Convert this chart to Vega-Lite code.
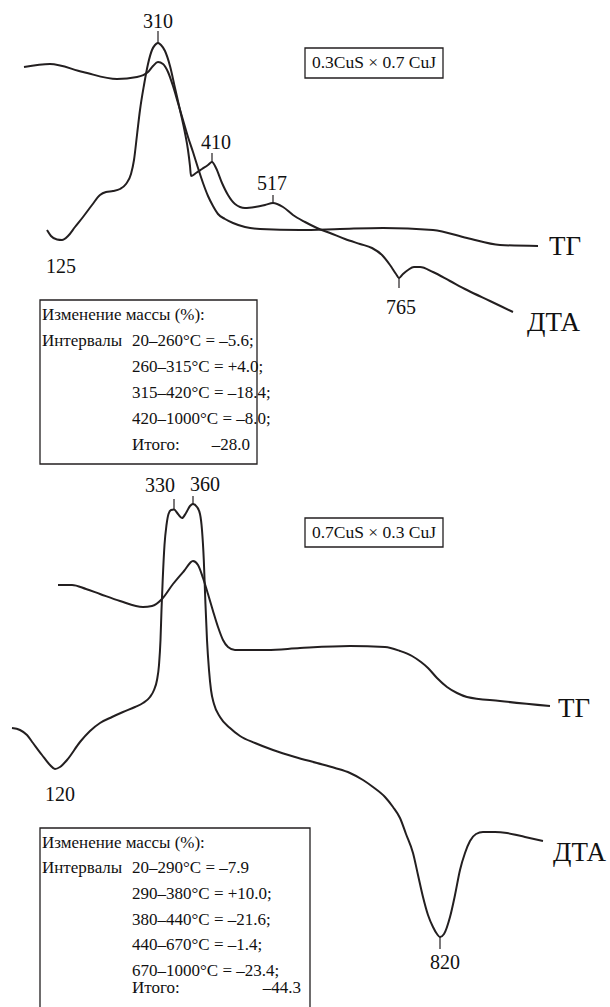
{
  "$schema": "https://vega.github.io/schema/vega-lite/v6.json",
  "autosize": {"type": "fit", "contains": "padding"},
  "width": 610,
  "height": 1007,
  "padding": 0,
  "background": "white",
  "config": {"view": {"stroke": null}},
  "datasets": {
    "curves": [
      {"curve": "tg1", "x": 24, "y": 67}, {"curve": "tg1", "x": 50, "y": 64}, {"curve": "tg1", "x": 83, "y": 72}, {"curve": "tg1", "x": 117, "y": 79},
      {"curve": "tg1", "x": 137, "y": 77}, {"curve": "tg1", "x": 148, "y": 72}, {"curve": "tg1", "x": 153, "y": 66}, {"curve": "tg1", "x": 158, "y": 62},
      {"curve": "tg1", "x": 163, "y": 64}, {"curve": "tg1", "x": 168, "y": 72}, {"curve": "tg1", "x": 173, "y": 86}, {"curve": "tg1", "x": 178, "y": 103},
      {"curve": "tg1", "x": 183, "y": 120}, {"curve": "tg1", "x": 188, "y": 137}, {"curve": "tg1", "x": 193, "y": 152}, {"curve": "tg1", "x": 198, "y": 168},
      {"curve": "tg1", "x": 203, "y": 183}, {"curve": "tg1", "x": 208, "y": 196}, {"curve": "tg1", "x": 213, "y": 206}, {"curve": "tg1", "x": 218, "y": 214},
      {"curve": "tg1", "x": 225, "y": 219}, {"curve": "tg1", "x": 233, "y": 223}, {"curve": "tg1", "x": 245, "y": 227}, {"curve": "tg1", "x": 260, "y": 229},
      {"curve": "tg1", "x": 300, "y": 230}, {"curve": "tg1", "x": 340, "y": 229}, {"curve": "tg1", "x": 383, "y": 228}, {"curve": "tg1", "x": 433, "y": 230},
      {"curve": "tg1", "x": 467, "y": 238}, {"curve": "tg1", "x": 500, "y": 245}, {"curve": "tg1", "x": 538, "y": 246},

      {"curve": "dta1", "x": 47, "y": 230}, {"curve": "dta1", "x": 51, "y": 236}, {"curve": "dta1", "x": 57, "y": 239.5}, {"curve": "dta1", "x": 62, "y": 240},
      {"curve": "dta1", "x": 68, "y": 236}, {"curve": "dta1", "x": 75, "y": 227}, {"curve": "dta1", "x": 83, "y": 217}, {"curve": "dta1", "x": 92, "y": 205},
      {"curve": "dta1", "x": 100, "y": 195}, {"curve": "dta1", "x": 106, "y": 192}, {"curve": "dta1", "x": 113, "y": 191}, {"curve": "dta1", "x": 120, "y": 189},
      {"curve": "dta1", "x": 126, "y": 184}, {"curve": "dta1", "x": 131, "y": 174}, {"curve": "dta1", "x": 134, "y": 160}, {"curve": "dta1", "x": 137, "y": 135},
      {"curve": "dta1", "x": 140, "y": 110}, {"curve": "dta1", "x": 144, "y": 85}, {"curve": "dta1", "x": 148, "y": 64}, {"curve": "dta1", "x": 152, "y": 50},
      {"curve": "dta1", "x": 155, "y": 45}, {"curve": "dta1", "x": 158, "y": 43}, {"curve": "dta1", "x": 161, "y": 45}, {"curve": "dta1", "x": 165, "y": 51},
      {"curve": "dta1", "x": 170, "y": 66}, {"curve": "dta1", "x": 175, "y": 88}, {"curve": "dta1", "x": 180, "y": 110}, {"curve": "dta1", "x": 185, "y": 133},
      {"curve": "dta1", "x": 188, "y": 150}, {"curve": "dta1", "x": 190, "y": 166}, {"curve": "dta1", "x": 191, "y": 176}, {"curve": "dta1", "x": 196, "y": 173},
      {"curve": "dta1", "x": 202, "y": 169}, {"curve": "dta1", "x": 208, "y": 165}, {"curve": "dta1", "x": 212, "y": 162}, {"curve": "dta1", "x": 216, "y": 168},
      {"curve": "dta1", "x": 222, "y": 183}, {"curve": "dta1", "x": 228, "y": 195}, {"curve": "dta1", "x": 235, "y": 204}, {"curve": "dta1", "x": 245, "y": 208},
      {"curve": "dta1", "x": 255, "y": 207}, {"curve": "dta1", "x": 265, "y": 205}, {"curve": "dta1", "x": 273, "y": 203}, {"curve": "dta1", "x": 283, "y": 207},
      {"curve": "dta1", "x": 293, "y": 215}, {"curve": "dta1", "x": 305, "y": 222}, {"curve": "dta1", "x": 317, "y": 228}, {"curve": "dta1", "x": 330, "y": 233},
      {"curve": "dta1", "x": 345, "y": 239}, {"curve": "dta1", "x": 360, "y": 244}, {"curve": "dta1", "x": 372, "y": 248}, {"curve": "dta1", "x": 382, "y": 255},
      {"curve": "dta1", "x": 390, "y": 265}, {"curve": "dta1", "x": 396, "y": 274}, {"curve": "dta1", "x": 399, "y": 278}, {"curve": "dta1", "x": 403, "y": 274},
      {"curve": "dta1", "x": 408, "y": 270}, {"curve": "dta1", "x": 414, "y": 267}, {"curve": "dta1", "x": 420, "y": 267}, {"curve": "dta1", "x": 433, "y": 272},
      {"curve": "dta1", "x": 450, "y": 281}, {"curve": "dta1", "x": 467, "y": 290}, {"curve": "dta1", "x": 490, "y": 301}, {"curve": "dta1", "x": 513, "y": 312},

      {"curve": "tg2", "x": 58, "y": 585}, {"curve": "tg2", "x": 72, "y": 585}, {"curve": "tg2", "x": 86, "y": 589}, {"curve": "tg2", "x": 100, "y": 594},
      {"curve": "tg2", "x": 120, "y": 601}, {"curve": "tg2", "x": 143, "y": 607}, {"curve": "tg2", "x": 152, "y": 606}, {"curve": "tg2", "x": 162, "y": 599},
      {"curve": "tg2", "x": 173, "y": 584}, {"curve": "tg2", "x": 184, "y": 571}, {"curve": "tg2", "x": 193, "y": 561}, {"curve": "tg2", "x": 198, "y": 565},
      {"curve": "tg2", "x": 203, "y": 578}, {"curve": "tg2", "x": 208, "y": 594}, {"curve": "tg2", "x": 213, "y": 611}, {"curve": "tg2", "x": 218, "y": 627},
      {"curve": "tg2", "x": 223, "y": 640}, {"curve": "tg2", "x": 228, "y": 647}, {"curve": "tg2", "x": 235, "y": 650}, {"curve": "tg2", "x": 267, "y": 650},
      {"curve": "tg2", "x": 300, "y": 648}, {"curve": "tg2", "x": 350, "y": 646}, {"curve": "tg2", "x": 385, "y": 647}, {"curve": "tg2", "x": 400, "y": 651},
      {"curve": "tg2", "x": 412, "y": 656}, {"curve": "tg2", "x": 421, "y": 662}, {"curve": "tg2", "x": 428, "y": 668}, {"curve": "tg2", "x": 437, "y": 678},
      {"curve": "tg2", "x": 447, "y": 687}, {"curve": "tg2", "x": 457, "y": 693}, {"curve": "tg2", "x": 467, "y": 697}, {"curve": "tg2", "x": 500, "y": 701},
      {"curve": "tg2", "x": 550, "y": 706},

      {"curve": "dta2", "x": 12, "y": 728}, {"curve": "dta2", "x": 20, "y": 730}, {"curve": "dta2", "x": 27, "y": 735}, {"curve": "dta2", "x": 33, "y": 743},
      {"curve": "dta2", "x": 42, "y": 755}, {"curve": "dta2", "x": 50, "y": 765}, {"curve": "dta2", "x": 55, "y": 769}, {"curve": "dta2", "x": 60, "y": 767},
      {"curve": "dta2", "x": 67, "y": 760}, {"curve": "dta2", "x": 80, "y": 742}, {"curve": "dta2", "x": 90, "y": 731}, {"curve": "dta2", "x": 100, "y": 723},
      {"curve": "dta2", "x": 112, "y": 717}, {"curve": "dta2", "x": 123, "y": 712}, {"curve": "dta2", "x": 135, "y": 707}, {"curve": "dta2", "x": 143, "y": 703},
      {"curve": "dta2", "x": 150, "y": 697}, {"curve": "dta2", "x": 154, "y": 690}, {"curve": "dta2", "x": 157, "y": 680}, {"curve": "dta2", "x": 159, "y": 665},
      {"curve": "dta2", "x": 160.5, "y": 640}, {"curve": "dta2", "x": 161.5, "y": 610}, {"curve": "dta2", "x": 162.7, "y": 580}, {"curve": "dta2", "x": 164.5, "y": 545},
      {"curve": "dta2", "x": 166.5, "y": 525}, {"curve": "dta2", "x": 168.5, "y": 514}, {"curve": "dta2", "x": 171, "y": 510}, {"curve": "dta2", "x": 174, "y": 509.5},
      {"curve": "dta2", "x": 178, "y": 514}, {"curve": "dta2", "x": 182, "y": 518}, {"curve": "dta2", "x": 186, "y": 513}, {"curve": "dta2", "x": 190, "y": 506},
      {"curve": "dta2", "x": 193, "y": 504}, {"curve": "dta2", "x": 197, "y": 507}, {"curve": "dta2", "x": 200, "y": 514}, {"curve": "dta2", "x": 202, "y": 530},
      {"curve": "dta2", "x": 203.8, "y": 560}, {"curve": "dta2", "x": 205.3, "y": 600}, {"curve": "dta2", "x": 207, "y": 640}, {"curve": "dta2", "x": 209, "y": 670},
      {"curve": "dta2", "x": 211, "y": 690}, {"curve": "dta2", "x": 214, "y": 704}, {"curve": "dta2", "x": 220, "y": 717}, {"curve": "dta2", "x": 230, "y": 728},
      {"curve": "dta2", "x": 240, "y": 736}, {"curve": "dta2", "x": 255, "y": 743}, {"curve": "dta2", "x": 273, "y": 750}, {"curve": "dta2", "x": 295, "y": 757},
      {"curve": "dta2", "x": 317, "y": 763}, {"curve": "dta2", "x": 335, "y": 768}, {"curve": "dta2", "x": 350, "y": 773}, {"curve": "dta2", "x": 363, "y": 780},
      {"curve": "dta2", "x": 373, "y": 787}, {"curve": "dta2", "x": 385, "y": 797}, {"curve": "dta2", "x": 393, "y": 807}, {"curve": "dta2", "x": 400, "y": 818},
      {"curve": "dta2", "x": 406, "y": 834}, {"curve": "dta2", "x": 413, "y": 853}, {"curve": "dta2", "x": 418, "y": 875}, {"curve": "dta2", "x": 423, "y": 897},
      {"curve": "dta2", "x": 428, "y": 915}, {"curve": "dta2", "x": 433, "y": 927}, {"curve": "dta2", "x": 437, "y": 934}, {"curve": "dta2", "x": 440, "y": 937},
      {"curve": "dta2", "x": 444, "y": 934}, {"curve": "dta2", "x": 450, "y": 917}, {"curve": "dta2", "x": 455, "y": 895}, {"curve": "dta2", "x": 460, "y": 870},
      {"curve": "dta2", "x": 465, "y": 853}, {"curve": "dta2", "x": 470, "y": 841}, {"curve": "dta2", "x": 476, "y": 834}, {"curve": "dta2", "x": 483, "y": 832},
      {"curve": "dta2", "x": 495, "y": 832}, {"curve": "dta2", "x": 507, "y": 833}, {"curve": "dta2", "x": 525, "y": 837}, {"curve": "dta2", "x": 543, "y": 841}
    ],
    "ticks": [
      {"x": 158, "y": 31, "y2": 43},
      {"x": 212, "y": 153, "y2": 162},
      {"x": 273, "y": 195, "y2": 203},
      {"x": 399, "y": 278, "y2": 288},
      {"x": 174, "y": 499, "y2": 509.5},
      {"x": 193, "y": 496, "y2": 504},
      {"x": 440, "y": 937, "y2": 949}
    ],
    "peaks": [
      {"x": 158, "y": 22, "label": "310"},
      {"x": 216, "y": 143, "label": "410"},
      {"x": 272, "y": 184, "label": "517"},
      {"x": 401, "y": 308, "label": "765"},
      {"x": 61, "y": 267, "label": "125"},
      {"x": 160, "y": 486, "label": "330"},
      {"x": 205, "y": 485, "label": "360"},
      {"x": 60, "y": 795, "label": "120"},
      {"x": 445, "y": 963, "label": "820"}
    ],
    "names": [
      {"x": 549, "y": 247, "label": "ТГ"},
      {"x": 527, "y": 323, "label": "ДТА"},
      {"x": 558, "y": 709, "label": "ТГ"},
      {"x": 553, "y": 853, "label": "ДТА"}
    ],
    "frames": [
      {"x": 305, "x2": 443, "y": 48, "y2": 78},
      {"x": 305, "x2": 443, "y": 518, "y2": 547},
      {"x": 40, "x2": 257, "y": 300, "y2": 464},
      {"x": 40, "x2": 310, "y": 828, "y2": 1030}
    ],
    "tags": [
      {"x": 374, "y": 63, "label": "0.3CuS × 0.7 CuJ"},
      {"x": 374, "y": 533, "label": "0.7CuS × 0.3 CuJ"}
    ],
    "notes": [
      {"x": 42, "y": 315, "label": "Изменение массы (%):"},
      {"x": 42, "y": 341, "label": "Интервалы"},
      {"x": 132, "y": 341, "label": "20–260°C = –5.6;"},
      {"x": 132, "y": 367, "label": "260–315°C = +4.0;"},
      {"x": 132, "y": 393, "label": "315–420°C = –18.4;"},
      {"x": 132, "y": 419, "label": "420–1000°C = –8.0;"},
      {"x": 132, "y": 445, "label": "Итого:"},
      {"x": 42, "y": 843, "label": "Изменение массы (%):"},
      {"x": 42, "y": 868, "label": "Интервалы"},
      {"x": 132, "y": 868, "label": "20–290°C = –7.9"},
      {"x": 132, "y": 894, "label": "290–380°C = +10.0;"},
      {"x": 132, "y": 920, "label": "380–440°C = –21.6;"},
      {"x": 132, "y": 945, "label": "440–670°C = –1.4;"},
      {"x": 132, "y": 971, "label": "670–1000°C = –23.4;"},
      {"x": 132, "y": 988, "label": "Итого:"}
    ],
    "totals": [
      {"x": 250, "y": 445, "label": "–28.0"},
      {"x": 301, "y": 988, "label": "–44.3"}
    ]
  },
  "encoding": {
    "x": {"field": "x", "type": "quantitative", "axis": null, "scale": {"domain": [0, 610], "nice": false, "zero": false}},
    "y": {"field": "y", "type": "quantitative", "axis": null, "scale": {"domain": [0, 1007], "reverse": true, "nice": false, "zero": false}}
  },
  "layer": [
    {
      "data": {"name": "curves"},
      "mark": {"type": "line", "interpolate": "monotone", "stroke": "#231f20", "strokeWidth": 2},
      "encoding": {"detail": {"field": "curve", "type": "nominal"}}
    },
    {
      "data": {"name": "ticks"},
      "mark": {"type": "rule", "stroke": "#231f20", "strokeWidth": 1.2},
      "encoding": {"y2": {"field": "y2"}}
    },
    {
      "data": {"name": "frames"},
      "mark": {"type": "rect", "fill": null, "fillOpacity": 0, "stroke": "#231f20", "strokeWidth": 1.3, "clip": true},
      "encoding": {"x2": {"field": "x2"}, "y2": {"field": "y2"}}
    },
    {
      "data": {"name": "peaks"},
      "mark": {"type": "text", "font": "Liberation Serif", "fontSize": 20, "align": "center", "baseline": "middle", "color": "#111"},
      "encoding": {"text": {"field": "label"}}
    },
    {
      "data": {"name": "names"},
      "mark": {"type": "text", "font": "Liberation Serif", "fontSize": 27, "align": "left", "baseline": "middle", "color": "#111"},
      "encoding": {"text": {"field": "label"}}
    },
    {
      "data": {"name": "tags"},
      "mark": {"type": "text", "font": "Liberation Serif", "fontSize": 17.5, "align": "center", "baseline": "middle", "color": "#111"},
      "encoding": {"text": {"field": "label"}}
    },
    {
      "data": {"name": "notes"},
      "mark": {"type": "text", "font": "Liberation Serif", "fontSize": 17, "align": "left", "baseline": "middle", "color": "#111"},
      "encoding": {"text": {"field": "label"}}
    },
    {
      "data": {"name": "totals"},
      "mark": {"type": "text", "font": "Liberation Serif", "fontSize": 17, "align": "right", "baseline": "middle", "color": "#111"},
      "encoding": {"text": {"field": "label"}}
    }
  ]
}
